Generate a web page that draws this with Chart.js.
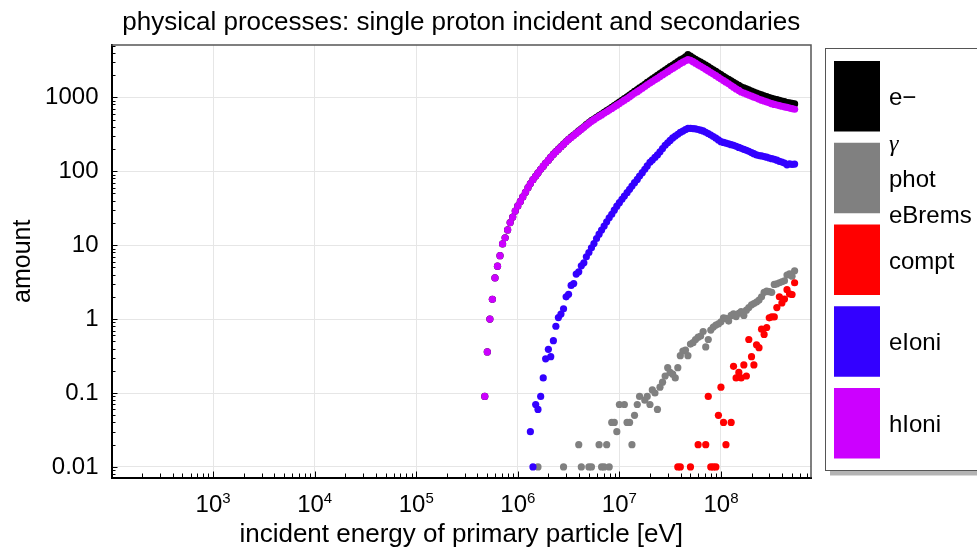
<!DOCTYPE html>
<html>
<head>
<meta charset="utf-8">
<script src="https://cdn.jsdelivr.net/npm/chart.js@4"></script>
<style>
  html, body { margin: 0; padding: 0; background: #fff; overflow: hidden; }
  canvas { display: block; }
</style>
</head>
<body>
<canvas id="c" width="977" height="550"></canvas>
<script>
const _ = null;

// incident energy grid [eV], shared by every series
const energy = [
  4.73e5, 5.01e5, 5.31e5, 5.62e5, 5.96e5, 6.31e5, 6.68e5, 7.08e5, 7.50e5, 7.94e5,
  8.41e5, 8.91e5, 9.44e5, 1.00e6, 1.06e6, 1.12e6, 1.19e6, 1.26e6, 1.33e6, 1.41e6,
  1.50e6, 1.58e6, 1.68e6, 1.78e6, 1.88e6, 2.00e6, 2.11e6, 2.24e6, 2.37e6, 2.51e6,
  2.66e6, 2.82e6, 2.99e6, 3.16e6, 3.35e6, 3.55e6, 3.76e6, 3.98e6, 4.22e6, 4.47e6,
  4.73e6, 5.01e6, 5.31e6, 5.62e6, 5.96e6, 6.31e6, 6.68e6, 7.08e6, 7.50e6, 7.94e6,
  8.41e6, 8.91e6, 9.44e6, 1.00e7, 1.06e7, 1.12e7, 1.19e7, 1.26e7, 1.33e7, 1.41e7,
  1.50e7, 1.58e7, 1.68e7, 1.78e7, 1.88e7, 2.00e7, 2.11e7, 2.24e7, 2.37e7, 2.51e7,
  2.66e7, 2.82e7, 2.99e7, 3.16e7, 3.35e7, 3.55e7, 3.76e7, 3.98e7, 4.22e7, 4.47e7,
  4.73e7, 5.01e7, 5.31e7, 5.62e7, 5.96e7, 6.31e7, 6.68e7, 7.08e7, 7.50e7, 7.94e7,
  8.41e7, 8.91e7, 9.44e7, 1.00e8, 1.06e8, 1.12e8, 1.19e8, 1.26e8, 1.33e8, 1.41e8,
  1.50e8, 1.58e8, 1.68e8, 1.78e8, 1.88e8, 2.00e8, 2.11e8, 2.24e8, 2.37e8, 2.51e8,
  2.66e8, 2.82e8, 2.99e8, 3.16e8, 3.35e8, 3.55e8, 3.76e8, 3.98e8, 4.22e8, 4.47e8,
  4.73e8, 5.01e8, 5.31e8
];

// e- (all secondary electrons)
const eMinus = [
  0.09, 0.36, 1.0, 1.85, 3.6, 5.2, 7.2, 10.4, 12.6, 16.1,
  20.2, 24, 29, 34, 39, 45, 52, 60, 68, 77,
  86, 95, 106, 117, 129, 141, 155, 170, 184, 199,
  215, 232, 252, 271, 289, 308, 329, 351, 374, 400,
  426, 455, 483, 509, 536, 565, 594, 626, 659, 694,
  732, 773, 816, 862, 913, 962, 1015, 1073, 1135, 1202,
  1269, 1342, 1423, 1503, 1594, 1688, 1779, 1876, 1977, 2093,
  2212, 2337, 2465, 2600, 2737, 2881, 3032, 3199, 3334, 3520,
  3780, 3600, 3412, 3270, 3121, 2989, 2857, 2725, 2599, 2472,
  2356, 2239, 2127, 2021, 1928, 1840, 1755, 1671, 1595, 1517,
  1449, 1384, 1341, 1299, 1258, 1217, 1178, 1141, 1105, 1077,
  1049, 1022, 994, 968, 947, 928, 909, 890, 872, 851,
  842, 827, 814
];

// gamma / phot / eBrems
const gammaPhot = [
  _, _, _, _, _, _, _, _, _, _,
  _, _, _, _, _, _, _, _, _, _,
  _, 0.01, _, _, _, _, _, _, _, _,
  _, 0.01, _, _, _, _, _, 0.02, 0.01, _,
  _, 0.01, 0.01, _, _, 0.02, 0.01, 0.01, 0.02, 0.01,
  0.04, 0.04, 0.03, 0.07, _, 0.07, 0.04, 0.04, 0.02, 0.05,
  0.07, 0.09, _, 0.08, 0.09, 0.07, 0.11, 0.10, 0.06, 0.12,
  0.14, 0.17, 0.22, 0.19, 0.18, 0.16, 0.22, 0.32, 0.37, 0.38,
  0.32, 0.46, 0.48, 0.53, 0.57, 0.59, 0.68, 0.42, 0.53, 0.71,
  0.78, 0.83, 0.86, 0.92, 1.04, 1.02, 0.94, 1.12, 1.18, 1.08,
  1.20, 1.26, 1.12, 1.32, 1.43, 1.56, 1.62, 1.70, 1.81, 2.0,
  2.3, 2.4, 2.35, 2.3, 2.94, 3.0, 3.1, 3.2, 3.3, 3.95,
  4.1, 3.8, 4.5
];

// compt
const compt = [
  _, _, _, _, _, _, _, _, _, _,
  _, _, _, _, _, _, _, _, _, _,
  _, _, _, _, _, _, _, _, _, _,
  _, _, _, _, _, _, _, _, _, _,
  _, _, _, _, _, _, _, _, _, _,
  _, _, _, _, _, _, _, _, _, _,
  _, _, _, _, _, _, _, _, _, _,
  _, _, _, _, _, _, 0.01, 0.01, _, _,
  _, 0.01, _, _, 0.02, _, _, 0.02, 0.09, 0.01,
  0.01, 0.01, 0.05, 0.12, 0.04, 0.02, _, 0.04, 0.23, 0.16,
  0.19, 0.16, 0.24, 0.17, 0.53, 0.31, 0.24, 0.45, 0.41, 0.73,
  0.62, 0.77, 1.04, 1.07, 1.07, 1.43, 2.0, 1.65, 1.87, 2.5,
  2.2, 2.15, 3.1
];

// eIoni
const eIoni = [
  _, _, _, _, _, _, _, _, _, _,
  _, _, _, _, _, _, _, _, 0.03, 0.01,
  0.07, 0.06, 0.09, 0.16, 0.29, 0.39, 0.31, 0.51, 0.80, 1.05,
  1.17, 1.38, 2.0, 2.16, 2.85, 3.03, 4.06, 4.36, 5.25, 5.77,
  6.95, 7.96, 9.2, 10.5, 12.3, 14.1, 16.0, 18.1, 20.7, 23.4,
  26.2, 29.7, 33.7, 37.6, 41.7, 46.2, 51.3, 56.9, 63.1, 70,
  77.6, 86.1, 95.5, 106, 118, 132, 142, 154, 166, 183,
  203, 224, 242, 261, 282, 299, 316, 335, 349, 365,
  380, 380, 378, 373, 367, 359, 351, 337, 324, 309,
  295, 280, 265, 251, 245, 240, 234, 229, 224, 217,
  210, 204, 198, 192, 186, 179, 173, 166, 163, 161,
  158, 155, 151, 148, 145, 141, 136, 133, 129, 122,
  126, 124, 125
];

// hIoni
const hIoni = [
  0.09, 0.36, 1.0, 1.85, 3.6, 5.2, 7.2, 10.4, 12.6, 16.1,
  20.2, 24, 29, 34, 39, 45, 52, 60, 68, 77,
  86, 95, 106, 117, 129, 141, 155, 169, 183, 198,
  214, 231, 250, 269, 286, 305, 325, 347, 369, 394,
  419, 447, 474, 498, 524, 551, 578, 608, 638, 671,
  706, 743, 782, 824, 871, 916, 964, 1016, 1072, 1132,
  1191, 1256, 1327, 1397, 1476, 1556, 1637, 1722, 1811, 1910,
  2009, 2113, 2223, 2339, 2455, 2582, 2716, 2864, 2985, 3112,
  3236, 3162, 3034, 2897, 2754, 2630, 2506, 2388, 2275, 2163,
  2061, 1959, 1862, 1770, 1683, 1600, 1521, 1442, 1371, 1300,
  1239, 1180, 1143, 1107, 1072, 1038, 1005, 975, 942, 916,
  891, 867, 843, 820, 802, 787, 773, 757, 743, 729,
  716, 703, 689
];

const xTickExps = [3, 4, 5, 6, 7, 8];
const yTicks = [0.01, 0.1, 1, 10, 100, 1000];
const yTickLabels = ['0.01', '0.1', '1', '10', '100', '1000'];
const legendLabels = [['e\u2212'], ['\u03b3', 'phot', 'eBrems'], ['compt'], ['eIoni'], ['hIoni']];
const seriesColors = ['#000000', '#808080', '#ff0000', '#3300ff', '#cc00ff'];

const FONT = '"Liberation Sans", Arial, sans-serif';

function pts(vals) {
  return energy.map((e, i) => ({ x: e, y: vals[i] })).filter(p => p.y !== null);
}

function ds(vals, color, order) {
  return {
    data: pts(vals),
    backgroundColor: color,
    pointRadius: 3.6,
    pointBorderWidth: 0,
    pointHoverRadius: 3.6,
    showLine: false,
    order: order
  };
}

// title, axis labels, inward ticks, frame and legend
const decor = {
  id: 'decor',
  afterDraw(chart) {
    const ctx = chart.ctx, a = chart.chartArea;
    const xs = chart.scales.x, ys = chart.scales.y;
    ctx.save();

    // top / right frame
    ctx.strokeStyle = '#555';
    ctx.lineWidth = 1.5;
    ctx.beginPath();
    ctx.moveTo(a.left, a.top);
    ctx.lineTo(a.right, a.top);
    ctx.lineTo(a.right, a.bottom);
    ctx.stroke();

    // inward tick marks
    ctx.strokeStyle = '#000';
    ctx.lineWidth = 1;
    for (let d = -3; d <= 4; d++) {
      for (let m = 1; m <= 9; m++) {
        const v = m * Math.pow(10, d);
        if (v < ys.min || v > ys.max) continue;
        const y = Math.round(ys.getPixelForValue(v)) + 0.5;
        ctx.beginPath();
        ctx.moveTo(a.left, y);
        ctx.lineTo(a.left + (m === 1 ? 6 : 4), y);
        ctx.stroke();
      }
    }
    for (let d = 2; d <= 9; d++) {
      for (let m = 1; m <= 9; m++) {
        const v = m * Math.pow(10, d);
        if (v <= xs.min || v > xs.max) continue;
        const x = Math.round(xs.getPixelForValue(v)) + 0.5;
        ctx.beginPath();
        ctx.moveTo(x, a.bottom);
        ctx.lineTo(x, a.bottom - (m === 1 ? 6 : 4));
        ctx.stroke();
      }
    }

    // x tick labels 10^n
    ctx.fillStyle = '#000';
    ctx.textBaseline = 'alphabetic';
    ctx.textAlign = 'left';
    xTickExps.forEach(n => {
      const x = xs.getPixelForValue(Math.pow(10, n));
      ctx.font = '24px ' + FONT;
      const w1 = ctx.measureText('10').width;
      ctx.font = '15px ' + FONT;
      const w2 = ctx.measureText(String(n)).width;
      const left = x - (w1 + w2) / 2;
      ctx.font = '24px ' + FONT;
      ctx.fillText('10', left, 512);
      ctx.font = '15px ' + FONT;
      ctx.fillText(String(n), left + w1, 503);
    });

    // title and axis titles
    ctx.textAlign = 'center';
    ctx.font = '26px ' + FONT;
    ctx.fillText('physical processes: single proton incident and secondaries', (a.left + a.right) / 2, 30);
    ctx.fillText('incident energy of primary particle [eV]', (a.left + a.right) / 2, 542);
    ctx.save();
    ctx.translate(30, (a.top + a.bottom) / 2);
    ctx.rotate(-Math.PI / 2);
    ctx.font = '25px ' + FONT;
    ctx.fillText('amount', 0, 0);
    ctx.restore();

    // legend box with shadow
    ctx.fillStyle = '#b3b3b3';
    ctx.fillRect(830, 52, 170, 423.5);
    ctx.fillStyle = '#fff';
    ctx.fillRect(825.5, 48.5, 170, 422);
    ctx.strokeStyle = '#555';
    ctx.lineWidth = 1;
    ctx.strokeRect(825.5, 48.5, 170, 422);

    ctx.textAlign = 'left';
    legendLabels.forEach((labels, i) => {
      const top = 61 + 81.75 * i;
      ctx.fillStyle = seriesColors[i];
      ctx.fillRect(834, top, 46, 70.5);
      ctx.fillStyle = '#000';
      if (labels.length === 1) {
        ctx.font = '24px ' + FONT;
        ctx.fillText(labels[0], 889, top + 44);
      } else {
        ctx.font = 'italic 24px "Liberation Serif", serif';
        ctx.fillText(labels[0], 889, top + 8);
        ctx.font = '24px ' + FONT;
        ctx.fillText(labels[1], 889, top + 44);
        ctx.fillText(labels[2], 889, top + 80.5);
      }
    });

    ctx.restore();
  }
};

new Chart(document.getElementById('c'), {
  type: 'scatter',
  data: {
    datasets: [
      ds(eMinus, seriesColors[0], 5),
      ds(gammaPhot, seriesColors[1], 4),
      ds(compt, seriesColors[2], 3),
      ds(eIoni, seriesColors[3], 2),
      ds(hIoni, seriesColors[4], 1)
    ]
  },
  options: {
    responsive: false,
    animation: false,
    devicePixelRatio: 1,
    events: [],
    layout: { padding: { left: 0, top: 45, right: 166, bottom: 0 } },
    plugins: {
      legend: { display: false },
      title: { display: false },
      tooltip: { enabled: false }
    },
    scales: {
      x: {
        type: 'logarithmic',
        position: 'bottom',
        bounds: 'data',
        min: 100,
        max: 7.7e8,
        afterBuildTicks: s => { s.ticks = xTickExps.map(n => ({ value: Math.pow(10, n) })); },
        afterFit: s => { s.height = 72.5; },
        ticks: { display: false },
        grid: { color: '#e6e6e6', lineWidth: 1, drawTicks: false },
        border: { color: '#000', width: 2 }
      },
      y: {
        type: 'logarithmic',
        position: 'left',
        bounds: 'data',
        min: 0.0072,
        max: 5100,
        afterBuildTicks: s => { s.ticks = yTicks.map(v => ({ value: v })); },
        afterFit: s => { s.width = 111.5; },
        ticks: {
          autoSkip: false,
          padding: 13,
          color: '#000',
          font: { family: FONT, size: 24 },
          callback: (v, i) => yTickLabels[i]
        },
        grid: { color: '#e6e6e6', lineWidth: 1, drawTicks: false },
        border: { color: '#000', width: 2 }
      }
    }
  },
  plugins: [decor]
});
</script>
</body>
</html>
